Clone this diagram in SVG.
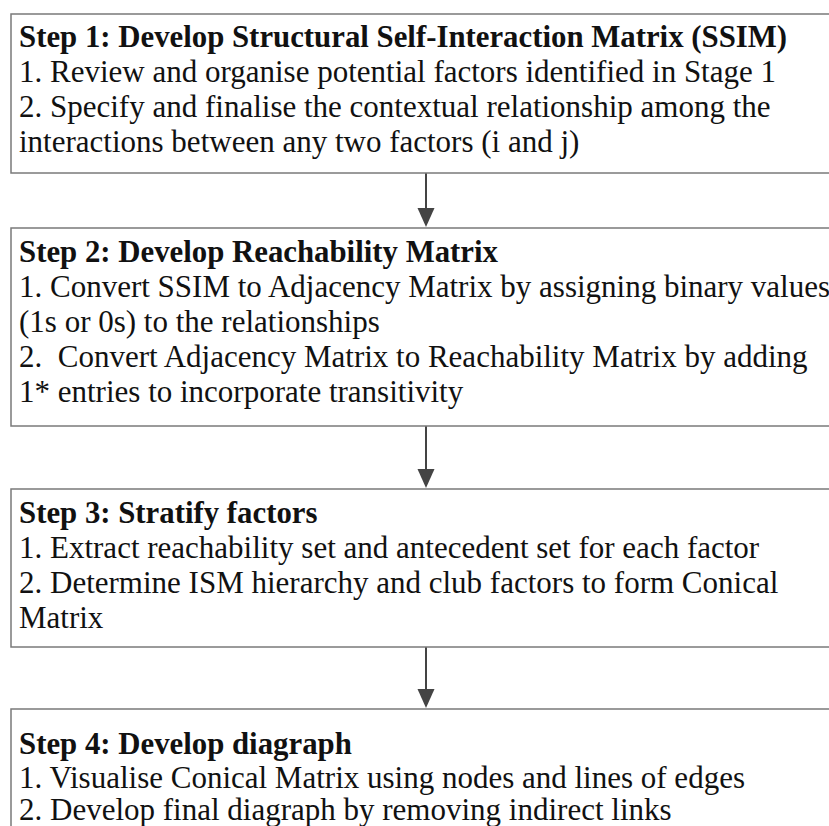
<svg xmlns="http://www.w3.org/2000/svg" width="829" height="826" viewBox="0 0 829 826">
<style>
.box{fill:#fff;stroke:#7a7a7a;stroke-width:1.5}
.t{font-family:"Liberation Serif","Times New Roman",serif;font-size:31px;fill:#111}
.b{font-weight:bold;font-size:30.8px}
.c{stroke:#444;stroke-width:2;fill:none}
.h{fill:#444}
</style>
<rect width="829" height="826" fill="#fff"/>
<g id="connectors">
<line class="c" x1="426" y1="173" x2="426" y2="209"/><path class="h" d="M417.5,208 L434.5,208 L426,227 Z"/>
<line class="c" x1="426" y1="426" x2="426" y2="470"/><path class="h" d="M417.5,469 L434.5,469 L426,488 Z"/>
<line class="c" x1="426" y1="647" x2="426" y2="690"/><path class="h" d="M417.5,689 L434.5,689 L426,708 Z"/>
</g>
<g id="step1">
<rect class="box" x="11" y="14" width="830" height="159"/>
<text class="t b" x="19" y="47">Step 1: Develop Structural Self-Interaction Matrix (SSIM)</text>
<text class="t" x="19" y="82">1. Review and organise potential factors identified in Stage 1</text>
<text class="t" x="19" y="117">2. Specify and finalise the contextual relationship among the</text>
<text class="t" x="19" y="152">interactions between any two factors (i and j)</text>
</g>
<g id="step2">
<rect class="box" x="11" y="228" width="830" height="198"/>
<text class="t b" x="19" y="262">Step 2: Develop Reachability Matrix</text>
<text class="t" x="19" y="297">1. Convert SSIM to Adjacency Matrix by assigning binary values</text>
<text class="t" x="19" y="332">(1s or 0s) to the relationships</text>
<text class="t" x="19" y="367" xml:space="preserve">2.  Convert Adjacency Matrix to Reachability Matrix by adding</text>
<text class="t" x="19" y="402">1* entries to incorporate transitivity</text>
</g>
<g id="step3">
<rect class="box" x="11" y="489" width="830" height="158"/>
<text class="t b" x="19" y="523">Step 3: Stratify factors</text>
<text class="t" x="19" y="558">1. Extract reachability set and antecedent set for each factor</text>
<text class="t" x="19" y="593">2. Determine ISM hierarchy and club factors to form Conical</text>
<text class="t" x="19" y="628">Matrix</text>
</g>
<g id="step4">
<rect class="box" x="11" y="709" width="830" height="140"/>
<text class="t b" x="19" y="754">Step 4: Develop diagraph</text>
<text class="t" x="19" y="788">1. Visualise Conical Matrix using nodes and lines of edges</text>
<text class="t" x="19" y="820">2. Develop final diagraph by removing indirect links</text>
</g>
</svg>
